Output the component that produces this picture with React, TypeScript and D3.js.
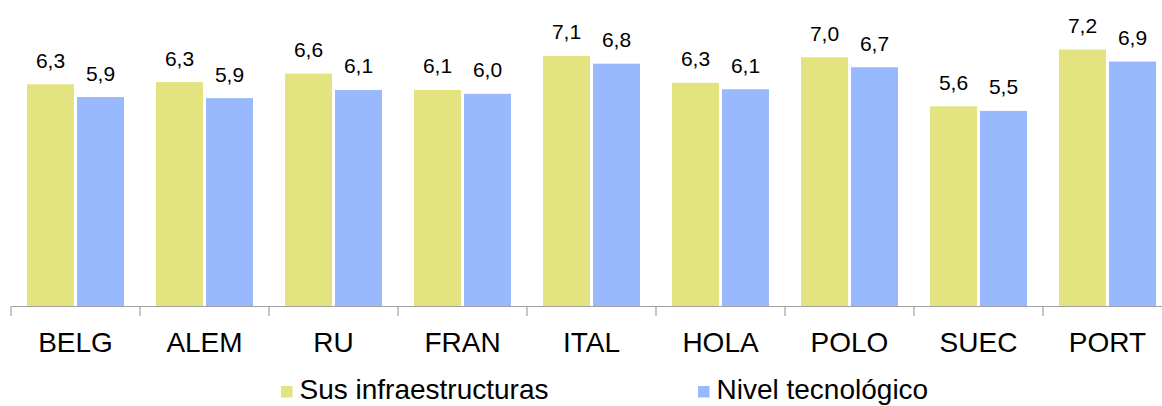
import { useEffect, useRef } from 'react';
import * as d3 from 'd3';

const categories = ['BELG', 'ALEM', 'RU', 'FRAN', 'ITAL', 'HOLA', 'POLO', 'SUEC', 'PORT'];
const infraestructuras = [6.26, 6.32, 6.56, 6.1, 7.06, 6.3, 7.02, 5.64, 7.24];
const tecnologico = [5.9, 5.87, 6.1, 5.99, 6.84, 6.12, 6.74, 5.51, 6.9];
const seriesNames = ['Sus infraestructuras', 'Nivel tecnológico'];
const seriesColors = ['#e3e380', '#99b9ff'];

const WIDTH = 1162;
const HEIGHT = 406;
const FONT = '"Liberation Sans", Arial, sans-serif';

export default function App() {
  const svgRef = useRef<SVGSVGElement>(null);

  useEffect(() => {
    if (!svgRef.current) return;
    const svg = d3.select(svgRef.current);
    svg.selectAll('*').remove();

    const baseline = 306.5;
    const x0 = d3.scaleBand<string>().domain(categories).range([11, 11 + 129 * categories.length]).padding(0);
    const x1 = d3.scaleBand<string>().domain(['0', '1']).range([16, 113]).paddingInner(0.06).paddingOuter(0);
    const y = d3.scaleLinear().domain([0, 8]).range([baseline, 22.5]);

    const rows = categories.map((c, i) => ({ cat: c, values: [infraestructuras[i], tecnologico[i]] }));

    const groups = svg
      .append('g')
      .selectAll('g')
      .data(rows)
      .join('g')
      .attr('transform', (d) => `translate(${x0(d.cat)},0)`);

    groups
      .selectAll('rect')
      .data((d) => d.values.map((v, i) => ({ v, i })))
      .join('rect')
      .attr('x', (d) => x1(String(d.i))!)
      .attr('y', (d) => y(d.v))
      .attr('width', x1.bandwidth())
      .attr('height', (d) => baseline - y(d.v))
      .attr('fill', (d) => seriesColors[d.i]);

    // value labels
    groups
      .selectAll('text')
      .data((d) => d.values.map((v, i) => ({ v, i })))
      .join('text')
      .attr('x', (d) => x1(String(d.i))! + x1.bandwidth() / 2)
      .attr('y', (d) => y(d.v) - 16.5)
      .attr('text-anchor', 'middle')
      .attr('font-family', FONT)
      .attr('font-size', '21px')
      .attr('fill', '#000')
      .text((d) => d.v.toFixed(1).replace('.', ','));

    // Axis
    const axis = svg.append('g').attr('transform', `translate(0,${baseline})`);
    axis
      .append('line')
      .attr('x1', 11)
      .attr('x2', WIDTH)
      .attr('stroke', '#a0a0a0')
      .attr('stroke-width', 1.2);
    axis
      .selectAll('.tick')
      .data(categories)
      .join('line')
      .attr('class', 'tick')
      .attr('x1', (d) => x0(d)!)
      .attr('x2', (d) => x0(d)!)
      .attr('y1', 0)
      .attr('y2', 9.5)
      .attr('stroke', '#a0a0a0')
      .attr('stroke-width', 1.2);
    axis
      .selectAll('.cat')
      .data(categories)
      .join('text')
      .attr('class', 'cat')
      .attr('x', (d) => x0(d)! + x0.bandwidth() / 2)
      .attr('y', 45)
      .attr('text-anchor', 'middle')
      .attr('font-family', FONT)
      .attr('font-size', '28px')
      .attr('fill', '#000')
      .text((d) => d);

    // Legend
    const legendX = [281, 698];
    const legend = svg
      .append('g')
      .selectAll('g')
      .data(seriesNames)
      .join('g')
      .attr('transform', (_d, i) => `translate(${legendX[i]},386)`);
    legend
      .append('rect')
      .attr('width', 11.5)
      .attr('height', 11.5)
      .attr('fill', (_d, i) => seriesColors[i]);
    legend
      .append('text')
      .attr('x', 18.5)
      .attr('y', 13)
      .attr('font-family', FONT)
      .attr('font-size', '28px')
      .attr('fill', '#000')
      .text((d) => d);
  }, []);

  return (
    <svg
      ref={svgRef}
      width={WIDTH}
      height={HEIGHT}
      style={{ position: 'absolute', left: 0, top: 0, background: '#fff' }}
    />
  );
}
